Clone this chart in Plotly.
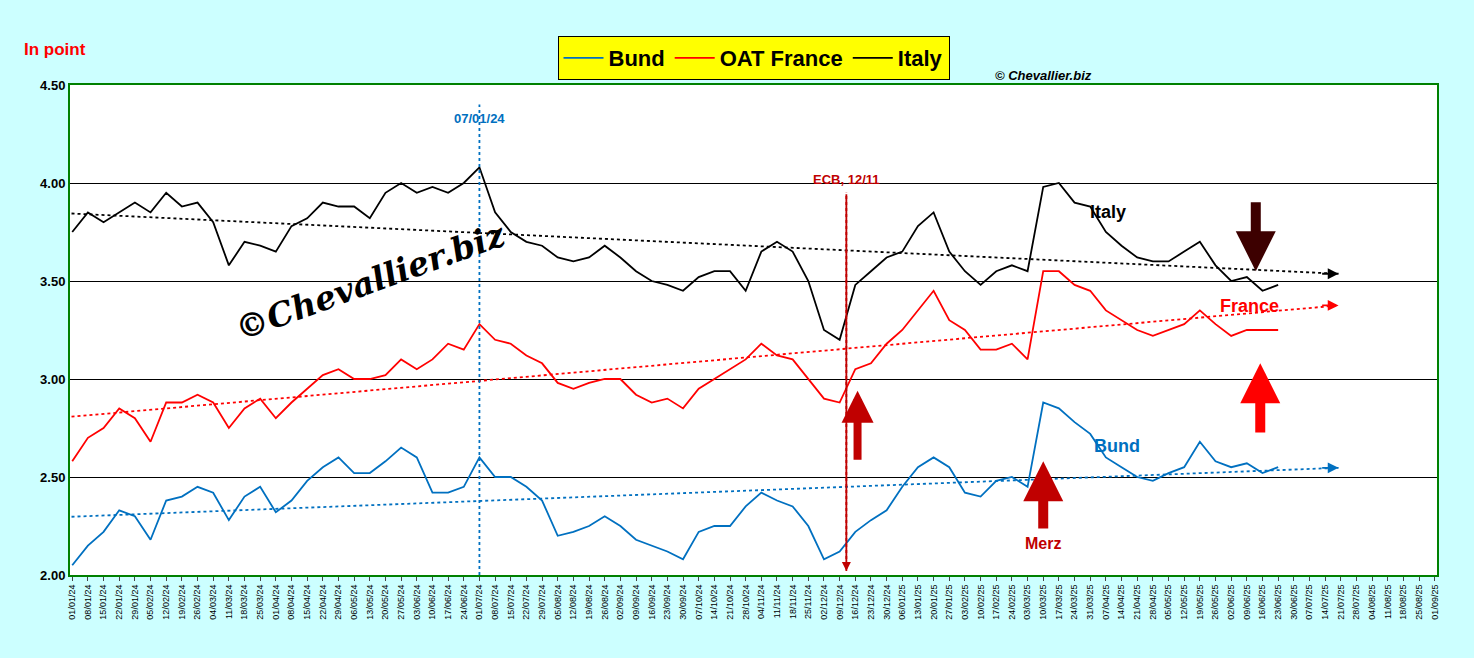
import numpy as np
import pandas as pd
import plotly.graph_objects as go

# Weekly closes (Mondays)
dates = pd.date_range("2024-01-01", "2025-06-23", freq="7D")

bund = [2.05, 2.15, 2.22, 2.33, 2.30,
        2.18, 2.38, 2.40, 2.45,
        2.42, 2.28, 2.40, 2.45,
        2.32, 2.38, 2.48, 2.55, 2.60,
        2.52, 2.52, 2.58, 2.65,
        2.60, 2.42, 2.42, 2.45,
        2.60, 2.50, 2.50, 2.45, 2.38,
        2.20, 2.22, 2.25, 2.30,
        2.25, 2.18, 2.15, 2.12, 2.08,
        2.22, 2.25, 2.25, 2.35,
        2.42, 2.38, 2.35, 2.25,
        2.08, 2.12, 2.22, 2.28, 2.33,
        2.45, 2.55, 2.60, 2.55,
        2.42, 2.40, 2.48, 2.50,
        2.45, 2.88, 2.85, 2.78, 2.72,
        2.60, 2.55, 2.50, 2.48,
        2.52, 2.55, 2.68, 2.58,
        2.55, 2.57, 2.52, 2.55]

france = [2.58, 2.70, 2.75, 2.85, 2.80,
          2.68, 2.88, 2.88, 2.92,
          2.88, 2.75, 2.85, 2.90,
          2.80, 2.88, 2.95, 3.02, 3.05,
          3.00, 3.00, 3.02, 3.10,
          3.05, 3.10, 3.18, 3.15,
          3.28, 3.20, 3.18, 3.12, 3.08,
          2.98, 2.95, 2.98, 3.00,
          3.00, 2.92, 2.88, 2.90, 2.85,
          2.95, 3.00, 3.05, 3.10,
          3.18, 3.12, 3.10, 3.00,
          2.90, 2.88, 3.05, 3.08, 3.18,
          3.25, 3.35, 3.45, 3.30,
          3.25, 3.15, 3.15, 3.18,
          3.10, 3.55, 3.55, 3.48, 3.45,
          3.35, 3.30, 3.25, 3.22,
          3.25, 3.28, 3.35, 3.28,
          3.22, 3.25, 3.25, 3.25]

italy = [3.75, 3.85, 3.80, 3.85, 3.90,
         3.85, 3.95, 3.88, 3.90,
         3.80, 3.58, 3.70, 3.68,
         3.65, 3.78, 3.82, 3.90, 3.88,
         3.88, 3.82, 3.95, 4.00,
         3.95, 3.98, 3.95, 4.00,
         4.08, 3.85, 3.75, 3.70, 3.68,
         3.62, 3.60, 3.62, 3.68,
         3.62, 3.55, 3.50, 3.48, 3.45,
         3.52, 3.55, 3.55, 3.45,
         3.65, 3.70, 3.65, 3.50,
         3.25, 3.20, 3.48, 3.55, 3.62,
         3.65, 3.78, 3.85, 3.65,
         3.55, 3.48, 3.55, 3.58,
         3.55, 3.98, 4.00, 3.90, 3.88,
         3.75, 3.68, 3.62, 3.60,
         3.60, 3.65, 3.70, 3.58,
         3.50, 3.52, 3.45, 3.48]

series = [("Bund", bund, "#0070c0"), ("OAT France", france, "#ff0000"), ("Italy", italy, "#000000")]
trend_end = pd.Timestamp("2025-07-20")

fig = go.Figure()
t0 = dates[0]
xdays = np.array([(d - t0).days for d in dates])
for name, vals, col in series:
    fig.add_trace(go.Scatter(x=dates, y=vals, name=name, mode="lines",
                             line=dict(color=col, width=1.8)))
    # linear trend, extended to the right
    a, b = np.polyfit(xdays, vals, 1)
    tx = [t0 - pd.Timedelta(days=3), trend_end]
    ty = [a * ((t - t0).days) + b for t in tx]
    fig.add_trace(go.Scatter(x=tx, y=ty, mode="lines", showlegend=False,
                             line=dict(color=col, width=1.8, dash="dot")))
    fig.add_annotation(x=tx[1], y=ty[1], ax=tx[1] - pd.Timedelta(days=8), ay=ty[1],
                       axref="x", ayref="y", text="", showarrow=True,
                       arrowhead=2, arrowsize=1.2, arrowwidth=1.8, arrowcolor=col)

# event lines
fig.add_shape(type="line", x0="2024-07-01", x1="2024-07-01", y0=2.0, y1=4.4,
              line=dict(color="#0070c0", width=1.8, dash="dot"))
fig.add_annotation(x="2024-07-01", y=4.33, text="<b>07/01/24</b>", showarrow=False,
                   font=dict(color="#0070c0", size=13))
fig.add_annotation(x="2024-12-12", y=2.02, ax="2024-12-12", ay=3.95, axref="x", ayref="y",
                   text="", showarrow=True, arrowhead=2, arrowwidth=1.8, arrowcolor="#c00000",
                   standoff=0)
fig.add_shape(type="line", x0="2024-12-12", x1="2024-12-12", y0=2.02, y1=3.95,
              line=dict(color="#c00000", width=1.8, dash="dot"))
fig.add_annotation(x="2024-12-12", y=4.02, text="<b>ECB, 12/11</b>", showarrow=False,
                   font=dict(color="#c00000", size=13, family="Liberation Sans Narrow, Arial"))

# block arrows
def block_arrow(x, y_from, y_to, col, w=10):
    fig.add_annotation(x=x, y=y_to, ax=x, ay=y_from, axref="x", ayref="y", text="",
                       showarrow=True, arrowhead=2, arrowsize=0.8, arrowwidth=w, arrowcolor=col)

block_arrow("2024-12-17", 2.58, 2.94, "#c00000", 8)
block_arrow("2025-03-10", 2.23, 2.58, "#c00000")
block_arrow("2025-06-13", 3.91, 3.55, "#3d0000")
block_arrow("2025-06-15", 2.72, 3.08, "#ff0000")

fig.add_annotation(x="2025-03-10", y=2.16, text="<b>Merz</b>", showarrow=False,
                   font=dict(color="#c00000", size=16))
fig.add_annotation(x="2025-04-08", y=3.85, text="<b>Italy</b>", showarrow=False,
                   font=dict(color="#000000", size=18))
fig.add_annotation(x="2025-06-10", y=3.37, text="<b>France</b>", showarrow=False,
                   font=dict(color="#ff0000", size=18))
fig.add_annotation(x="2025-04-12", y=2.66, text="<b>Bund</b>", showarrow=False,
                   font=dict(color="#0070c0", size=18))

# watermark and captions
fig.add_annotation(x=0.115, y=0.6, xref="paper", yref="paper", text="<b><i>©Chevallier.biz</i></b>",
                   showarrow=False, textangle=-20,
                   font=dict(family="DejaVu Serif", size=33, color="#000000"))
fig.add_annotation(x=0.0, y=1.095, xref="paper", yref="paper", xanchor="left",
                   text="<b>In point</b>", showarrow=False, font=dict(color="#ff0000", size=17),
                   xshift=-48)
fig.add_annotation(x=0.675, y=1.0, xref="paper", yref="paper", xanchor="left", yanchor="bottom",
                   text="<b><i>© Chevallier.biz</i></b>", showarrow=False,
                   font=dict(color="#000000", size=13))

ticks = pd.date_range("2024-01-01", "2025-09-01", freq="7D")
fig.update_xaxes(range=["2023-12-31", "2025-09-02"], tickvals=ticks,
                 ticktext=[d.strftime("%d/%m/%y") for d in ticks], tickangle=-90,
                 tickfont=dict(size=9, color="#000"), showgrid=False, ticks="outside",
                 ticklen=4, showline=True, linecolor="#008000", linewidth=2, mirror=True)
fig.update_yaxes(range=[2.0, 4.5], dtick=0.5, tickformat=".2f",
                 tickfont=dict(size=13, color="#000", weight="bold"),
                 showgrid=True, gridcolor="#000", gridwidth=1, zeroline=False,
                 showline=True, linecolor="#008000", linewidth=2, mirror=True)
fig.update_layout(
    width=1474, height=658,
    paper_bgcolor="#ccffff", plot_bgcolor="#ffffff",
    margin=dict(l=70, r=37, t=85, b=83),
    font=dict(family="Liberation Sans, Arial"),
    legend=dict(orientation="h", x=0.5, xanchor="center", y=1.01, yanchor="bottom",
                bgcolor="#ffff00", bordercolor="#000", borderwidth=1,
                font=dict(size=22, color="#000", weight="bold"),
                itemwidth=40),
)
fig.write_html("out.html", config={"displayModeBar": False},
               post_script="document.body.style.margin='0';document.body.style.overflow='hidden';")
